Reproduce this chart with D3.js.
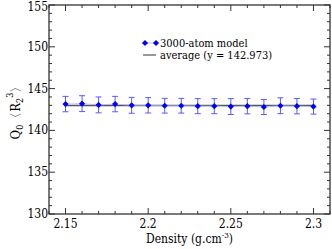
<!DOCTYPE html>
<html>
<head>
<meta charset="utf-8">
<script src="https://cdn.jsdelivr.net/npm/d3@7/dist/d3.min.js"></script>
<style>
  * { margin: 0; padding: 0; }
  body { background: #fff; width: 332px; height: 249px; overflow: hidden; }
  svg text { font-family: "DejaVu Serif Condensed", "DejaVu Serif", serif; font-stretch: condensed; }
</style>
</head>
<body>
<svg id="chart" width="332" height="249"></svg>
<script>
// --- data ---
const density  = [2.15, 2.16, 2.17, 2.18, 2.19, 2.20, 2.21, 2.22, 2.23, 2.24, 2.25, 2.26, 2.27, 2.28, 2.29, 2.30]
const qValues  = [143.15, 143.2, 143.05, 143.15, 143.0, 143.0, 142.95, 142.95, 142.9, 142.9, 142.85, 142.9, 142.8, 142.95, 142.9, 142.85]
const qErrors  = [0.92, 0.95, 0.95, 0.92, 0.95, 0.92, 0.88, 0.88, 0.9, 0.9, 0.95, 0.92, 0.9, 0.95, 0.92, 0.9]
const average  = 142.973
const xTicks   = [2.15, 2.2, 2.25, 2.3]
const yTicks   = [130, 135, 140, 145, 150, 155]

const svg = d3.select('#chart')
const m = { left: 49, right: 2, top: 5, bottom: 35 }
const W = 332, H = 249

const x = d3.scaleLinear().domain([2.14, 2.31]).range([m.left, W - m.right])
const y = d3.scaleLinear().domain([130, 155]).range([H - m.bottom, m.top])

const axisColor = '#333'

// average line
svg.append('line')
  .attr('x1', x(2.15)).attr('x2', x(2.30))
  .attr('y1', y(average)).attr('y2', y(average))
  .attr('stroke', '#555').attr('stroke-width', 1.5)

// faint connecting line
svg.append('path')
  .datum(density.map((d, i) => [d, qValues[i]]))
  .attr('fill', 'none')
  .attr('stroke', '#aab4ff').attr('stroke-width', 0.8)
  .attr('d', d3.line().x(d => x(d[0])).y(d => y(d[1])))

// error bars
const eb = svg.append('g').attr('stroke', '#5a5aff').attr('stroke-width', 1)
density.forEach((d, i) => {
  const cx = x(d), top = y(qValues[i] + qErrors[i]), bot = y(qValues[i] - qErrors[i])
  eb.append('line').attr('x1', cx).attr('x2', cx).attr('y1', top).attr('y2', bot)
  eb.append('line').attr('x1', cx - 3).attr('x2', cx + 3).attr('y1', top).attr('y2', top)
  eb.append('line').attr('x1', cx - 3).attr('x2', cx + 3).attr('y1', bot).attr('y2', bot)
})

// diamonds
const diamond = d3.symbol().type(d3.symbolDiamond2).size(24)
svg.append('g').selectAll('path')
  .data(density)
  .join('path')
    .attr('transform', (d, i) => `translate(${x(d)},${y(qValues[i])})`)
    .attr('d', diamond)
    .attr('fill', '#0000ff')

// frame
svg.append('rect')
  .attr('x', m.left).attr('y', m.top)
  .attr('width', W - m.left - m.right).attr('height', H - m.top - m.bottom)
  .attr('fill', 'none').attr('stroke', axisColor).attr('stroke-width', 1.3)

// inward ticks on all four sides
const ticks = svg.append('g').attr('stroke', axisColor).attr('stroke-width', 1)
d3.range(2.14, 2.3101, 0.01).forEach(v => {
  const major = xTicks.some(t => Math.abs(t - v) < 1e-6)
  const len = major ? 6 : 3
  ticks.append('line').attr('x1', x(v)).attr('x2', x(v)).attr('y1', y(130)).attr('y2', y(130) - len)
  ticks.append('line').attr('x1', x(v)).attr('x2', x(v)).attr('y1', y(155)).attr('y2', y(155) + len)
})
d3.range(130, 155.5, 1).forEach(v => {
  const major = v % 5 === 0
  const len = major ? 6 : 3
  ticks.append('line').attr('x1', x(2.14)).attr('x2', x(2.14) + len).attr('y1', y(v)).attr('y2', y(v))
  ticks.append('line').attr('x1', x(2.31)).attr('x2', x(2.31) - len).attr('y1', y(v)).attr('y2', y(v))
})

// tick labels
svg.append('g').selectAll('text')
  .data(xTicks)
  .join('text')
    .attr('x', d => x(d)).attr('y', y(130) + 14)
    .attr('text-anchor', 'middle').attr('font-size', 12)
    .text(d => d)
svg.append('g').selectAll('text')
  .data(yTicks)
  .join('text')
    .attr('x', m.left - 1).attr('y', d => Math.max(y(d) + 4, 11))
    .attr('text-anchor', 'end').attr('font-size', 12)
    .text(d => d)

// axis titles
svg.append('text')
  .attr('x', (m.left + W - m.right) / 2).attr('y', 243)
  .attr('text-anchor', 'middle').attr('font-size', 12)
  .html('Density (g.cm<tspan dy="-5" font-size="8">-3</tspan><tspan dy="5">)</tspan>')

svg.append('text')
  .attr('transform', `translate(20,${(m.top + H - m.bottom) / 2}) rotate(-90)`)
  .attr('text-anchor', 'middle').attr('font-size', 13)
  .html('Q<tspan dy="3" font-size="9">0</tspan><tspan dy="-3">〈R</tspan><tspan dy="3" font-size="9">2</tspan><tspan dy="-10" font-size="9">3</tspan><tspan dy="7">〉</tspan>')

// legend
const lg = svg.append('g').attr('font-size', 11)
lg.append('line').attr('x1', 145).attr('x2', 156).attr('y1', 43).attr('y2', 43)
  .attr('stroke', '#aab4ff').attr('stroke-width', 0.8)
lg.selectAll('path').data([145, 156]).join('path')
  .attr('transform', d => `translate(${d},43)`).attr('d', diamond).attr('fill', '#0000ff')
lg.append('text').attr('x', 160).attr('y', 47).text('3000-atom model')
lg.append('line').attr('x1', 143).attr('x2', 156).attr('y1', 55).attr('y2', 55)
  .attr('stroke', '#333').attr('stroke-width', 1)
lg.append('text').attr('x', 160).attr('y', 59).text('average (y = 142.973)')
</script>
</body>
</html>
